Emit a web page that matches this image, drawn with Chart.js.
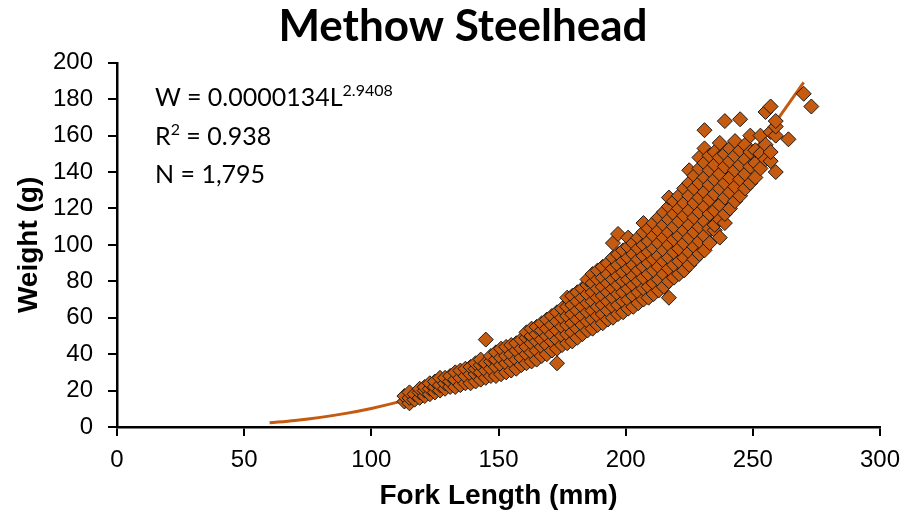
<!DOCTYPE html>
<html>
<head>
<meta charset="utf-8">
<script src="https://cdn.jsdelivr.net/npm/chart.js@4.4.1/dist/chart.umd.min.js"></script>
<style>
    body { margin: 0; background: #fff; }
    #wrap { position: relative; width: 906px; height: 518px; }
    #note {
        position: absolute; left: 155px; top: 79px;
        font-family: Lato, "Open Sans", sans-serif; font-size: 25px; line-height: 35.5px; color: #000;
    }
    #note .sup { font-size: 16px; position: relative; top: -10px; }
</style>
</head>
<body>
<div id="wrap">
    <canvas id="chart" width="906" height="518"></canvas>
    <div id="note">
        <div>W = 0.0000134L<span class="sup">2.9408</span></div>
        <div>R<span class="sup">2</span> = 0.938</div>
        <div>N = 1,795</div>
    </div>
</div>
<script>
"use strict"

const lengthsMm = [113, 115, 117, 119, 121, 123, 125, 127, 129, 131, 133, 135, 137, 139,
    141, 143, 145, 147, 149, 151, 153, 155, 157, 159, 161, 163, 165, 167, 169, 171, 173, 175,
    177, 179, 181, 183, 185, 187, 189, 191, 193, 195, 197, 199, 201, 203, 205, 207, 209, 211,
    213, 215, 217, 219, 221, 223, 225, 227, 229, 231, 233, 235, 237, 239, 241, 243, 245, 247,
    249, 251, 253, 255, 257, 259, 264, 270, 273];

const weightsG = [
    [14, 17], [13, 16, 19], [15, 18], [16, 19, 21], [17, 20, 22], [18, 21, 24], [19, 22, 25],
    [20, 23, 27], [21, 24, 27], [22, 25, 28], [22, 26, 30], [23, 27, 31], [24, 28, 32], [24, 29, 33],
    [25, 29, 32, 35], [26, 30, 34, 37], [27, 31, 35, 48], [28, 32, 36, 39], [28, 33, 37, 41],
    [29, 34, 38, 43], [30, 35, 39, 44], [31, 36, 40, 45], [32, 37, 42, 46], [34, 38, 43, 48],
    [35, 40, 44, 49, 52], [36, 41, 46, 50, 54], [37, 42, 47, 51, 55], [39, 44, 48, 53, 57],
    [40, 45, 50, 54, 59], [42, 47, 51, 56, 61], [35, 43, 48, 53, 58, 63], [45, 50, 55, 60, 65],
    [46, 51, 56, 61, 66, 71], [47, 52, 57, 62, 67, 72], [49, 54, 59, 64, 69, 74],
    [51, 56, 61, 66, 71, 76], [53, 58, 63, 68, 73, 78, 81], [54, 59, 64, 69, 74, 79, 84],
    [56, 61, 66, 71, 76, 81, 86], [57, 62, 67, 72, 77, 82, 88], [59, 64, 69, 74, 79, 84, 90],
    [60, 66, 71, 76, 81, 87, 93, 101], [62, 67, 73, 78, 83, 89, 95, 106],
    [63, 69, 74, 80, 85, 91, 97], [65, 70, 76, 81, 87, 93, 99, 104],
    [66, 72, 78, 83, 89, 95, 101], [68, 74, 80, 86, 92, 98, 104],
    [70, 76, 82, 88, 94, 100, 107, 112], [71, 77, 84, 90, 96, 102, 109],
    [73, 79, 86, 92, 98, 105, 112], [75, 81, 88, 94, 101, 108, 115],
    [77, 84, 91, 97, 104, 111, 118], [71, 80, 87, 93, 100, 107, 114, 121, 126],
    [82, 89, 96, 103, 110, 117, 124], [84, 91, 98, 105, 113, 120, 127],
    [86, 93, 101, 108, 116, 123, 131], [89, 96, 104, 111, 119, 127, 134, 141],
    [92, 99, 107, 115, 123, 131, 138], [95, 102, 110, 118, 126, 134, 142, 148],
    [97, 105, 113, 121, 129, 137, 145, 153, 163], [101, 109, 117, 125, 133, 141, 149],
    [108, 111, 119, 128, 136, 144, 151], [104, 114, 122, 131, 139, 148, 156], [112, 117, 126, 134, 143, 150, 168],
    [120, 129, 137, 146, 153], [124, 132, 141, 149, 157], [127, 136, 144, 152, 169],
    [131, 139, 147, 155], [134, 143, 151, 160], [137, 145, 152], [142, 150, 160],
    [147, 155, 173], [146, 151, 162, 176], [140, 160, 165, 168], [158], [183], [176]
];

// curva W = 0.0000134 L^2.9408 (valori letti ogni 10 mm)
const trendLength = [60, 70, 80, 90, 100, 110, 120, 130, 140, 150, 160, 170, 180, 190, 200, 210, 220, 230, 240, 250, 260, 270];
const trendWeight = [2.27, 3.57, 5.29, 7.48, 10.2, 13.5, 17.44, 22.07, 27.44, 33.61, 40.64, 48.58, 57.48, 67.37, 78.34, 90.43, 103.7, 118.2, 133.9, 151.0, 169.5, 189.3];

const xTicks = [0, 50, 100, 150, 200, 250, 300];
const yTicks = [0, 20, 40, 60, 80, 100, 120, 140, 160, 180, 200];

let punti = [];
for (let i = 0; i < lengthsMm.length; i++) {
    weightsG[i].forEach(w => punti.push({ x: lengthsMm[i], y: w }));
}
let curva = trendLength.map((l, i) => ({ x: l, y: trendWeight[i] }));

const tickFont = { family: "Liberation Sans", size: 24 };
const titleFont = { family: "Liberation Sans", size: 28, weight: "bold" };

new Chart(document.getElementById("chart"), {
    type: "scatter",
    data: {
        datasets: [{
            data: curva,
            showLine: true,
            borderColor: "#C55A11",
            borderWidth: 3,
            pointRadius: 0,
            cubicInterpolationMode: "monotone",
            order: 2
        }, {
            data: punti,
            pointStyle: "rectRot",
            pointRadius: 7.5,
            backgroundColor: "#C55A11",
            borderColor: "#1a1a1a",
            borderWidth: 1,
            order: 1
        }]
    },
    options: {
        responsive: false,
        animation: false,
        layout: { padding: { left: 46, right: 26 } },
        plugins: {
            legend: { display: false },
            tooltip: { enabled: false },
            title: {
                display: true,
                text: "Methow Steelhead",
                color: "#000",
                font: { family: "Lato", size: 44, weight: "bold" },
                padding: { top: 0, bottom: 10 }
            }
        },
        scales: {
            x: {
                type: "linear", min: 0, max: 300,
                afterBuildTicks: s => { s.ticks = xTicks.map(v => ({ value: v })); },
                afterFit: s => { s.height = 91; s.paddingRight = 0; s.paddingLeft = 0; },
                ticks: { font: tickFont, color: "#000", padding: 10 },
                grid: { drawOnChartArea: false, tickLength: 9, color: "#000", lineWidth: 2 },
                border: { color: "#000", width: 2.5 },
                title: { display: true, text: "Fork Length (mm)", color: "#000", font: titleFont, padding: { top: 0, bottom: 5 } }
            },
            y: {
                type: "linear", min: 0, max: 200,
                afterBuildTicks: s => { s.ticks = yTicks.map(v => ({ value: v })); },
                afterFit: s => { s.width = 71; },
                ticks: { font: tickFont, color: "#000", padding: 15 },
                grid: { drawOnChartArea: false, tickLength: 9, color: "#000", lineWidth: 2 },
                border: { color: "#000", width: 2.5 },
                title: { display: true, text: "Weight (g)", color: "#000", font: titleFont, padding: { top: -34, bottom: 0 } }
            }
        }
    }
});
</script>
</body>
</html>
